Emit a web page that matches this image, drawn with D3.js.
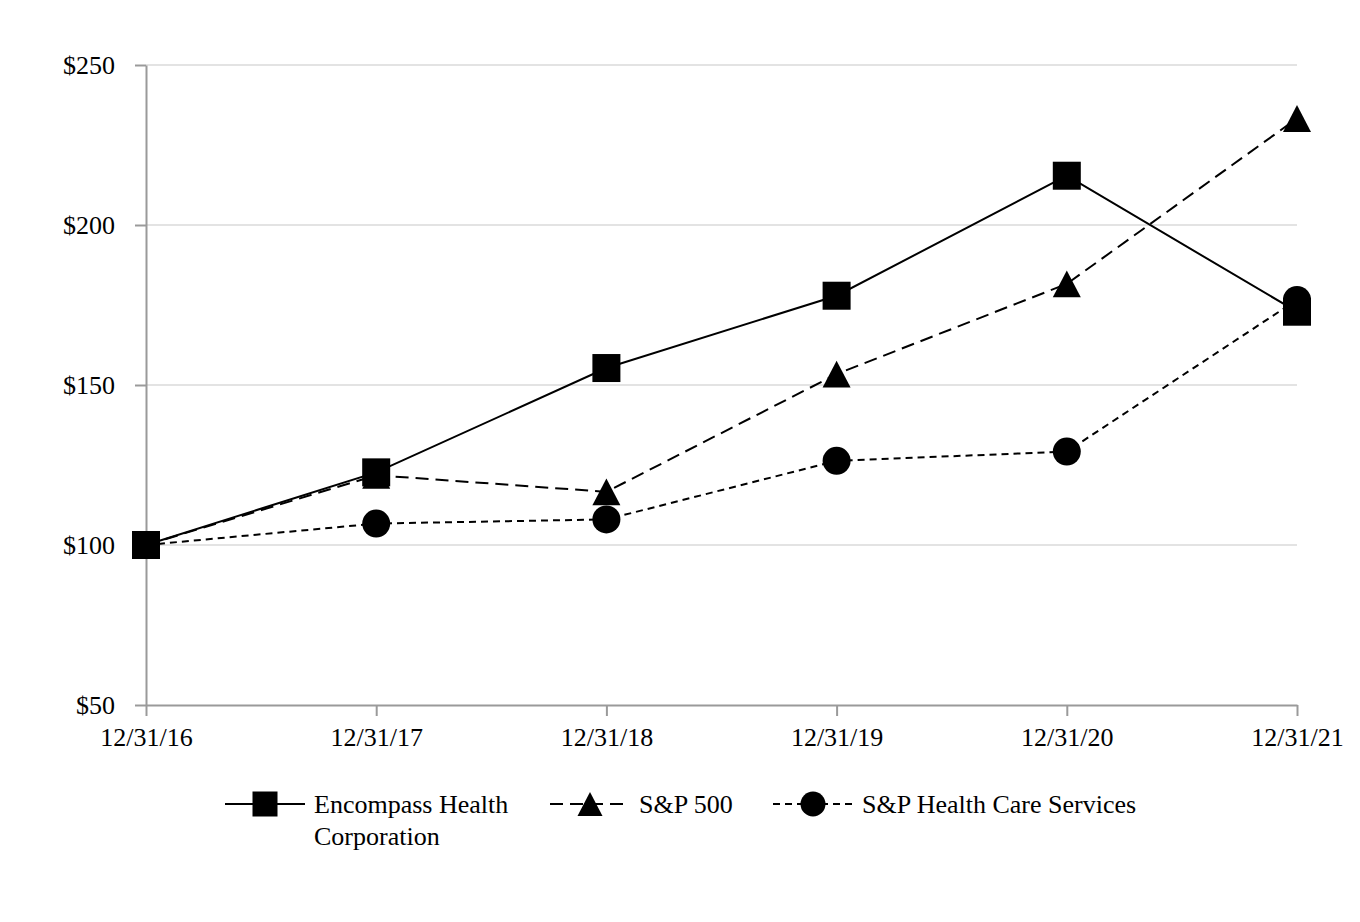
<!DOCTYPE html>
<html>
<head>
<meta charset="utf-8">
<script src="https://cdn.jsdelivr.net/npm/d3@7"></script>
<style>
  html, body { margin: 0; padding: 0; background: #fff; }
  svg { display: block; }
  text { font-family: "Liberation Serif", "Times New Roman", serif; fill: #000; }
</style>
</head>
<body>
<svg id="chart" width="1360" height="922"></svg>
<script>
const dates = ["12/31/16", "12/31/17", "12/31/18", "12/31/19", "12/31/20", "12/31/21"];
const encompass = [100, 122.7, 155.3, 177.9, 215.4, 172.9];
const sp500 = [100, 121.8, 116.6, 153.4, 181.6, 233.3];
const hcs = [100, 106.7, 108.0, 126.3, 129.2, 176.6];
const yTicks = [50, 100, 150, 200, 250];
const seriesNames = ["Encompass Health Corporation", "S&P 500", "S&P Health Care Services"];

const svg = d3.select("#chart");
const x = d3.scalePoint().domain(dates).range([146, 1297]);
const y = d3.scaleLinear().domain([50, 250]).range([705, 65]);

// gridlines
svg.append("g").selectAll("line").data(yTicks.filter(d => d > 50)).join("line")
  .attr("x1", 146).attr("x2", 1297)
  .attr("y1", d => y(d)).attr("y2", d => y(d))
  .attr("stroke", "#e3e3e3").attr("stroke-width", 2);

// y axis
const yAxis = svg.append("g").attr("transform", "translate(146,0)")
  .call(d3.axisLeft(y).tickValues(yTicks).tickSize(11).tickSizeOuter(0).tickFormat(d => "$" + d));
// x axis
const xAxis = svg.append("g").attr("transform", "translate(0,705)")
  .call(d3.axisBottom(x).tickSize(11).tickSizeOuter(0));

[yAxis, xAxis].forEach(g => {
  g.select(".domain").attr("stroke", "#9a9a9a").attr("stroke-width", 2);
  g.selectAll(".tick line").attr("stroke", "#9a9a9a").attr("stroke-width", 2);
  g.selectAll("text").style("font-family", "'Liberation Serif', serif").style("font-size", "26px").attr("fill", "#000");
});
yAxis.selectAll("text").attr("x", -31).attr("dy", "0.33em");
xAxis.selectAll("text").attr("y", 41).attr("dy", 0);

const line = d3.line().x((d, i) => x(dates[i])).y(d => y(d));

const series = [
  { name: seriesNames[0], values: encompass, dash: null, marker: "square" },
  { name: seriesNames[1], values: sp500, dash: "13,7", marker: "triangle" },
  { name: seriesNames[2], values: hcs, dash: "7,5", marker: "circle" }
];

function drawMarker(g, type, cx, cy, size) {
  if (type === "square") {
    g.append("rect").attr("x", cx - size / 2).attr("y", cy - size / 2)
      .attr("width", size).attr("height", size).attr("fill", "#000");
  } else if (type === "circle") {
    g.append("circle").attr("cx", cx).attr("cy", cy).attr("r", size / 2).attr("fill", "#000");
  } else {
    const h = size * 0.96;
    g.append("path").attr("d", `M${cx},${cy - h / 2}L${cx + size / 2},${cy + h / 2}L${cx - size / 2},${cy + h / 2}Z`)
      .attr("fill", "#000");
  }
}

// draw in reverse so Encompass is on top
series.slice().reverse().forEach(s => {
  const g = svg.append("g");
  g.append("path").attr("d", line(s.values)).attr("fill", "none")
    .attr("stroke", "#000").attr("stroke-width", 2)
    .attr("stroke-dasharray", s.dash);
  s.values.forEach((v, i) => drawMarker(g, s.marker, x(dates[i]), y(v), 28));
});

// legend
const legendItems = [
  { s: series[0], x0: 225, lines: ["Encompass Health", "Corporation"] },
  { s: series[1], x0: 550, lines: ["S&P 500"] },
  { s: series[2], x0: 773, lines: ["S&P Health Care Services"] }
];
const ly = 804;
legendItems.forEach(item => {
  const g = svg.append("g");
  g.append("line").attr("x1", item.x0).attr("x2", item.x0 + 80).attr("y1", ly).attr("y2", ly)
    .attr("stroke", "#000").attr("stroke-width", 2).attr("stroke-dasharray", item.s.dash);
  drawMarker(g, item.s.marker, item.x0 + 40, ly, 25);
  item.lines.forEach((t, i) => {
    g.append("text").attr("x", item.x0 + 89).attr("y", ly + 9 + i * 32)
      .style("font-size", "26px").text(t);
  });
});
</script>
</body>
</html>
